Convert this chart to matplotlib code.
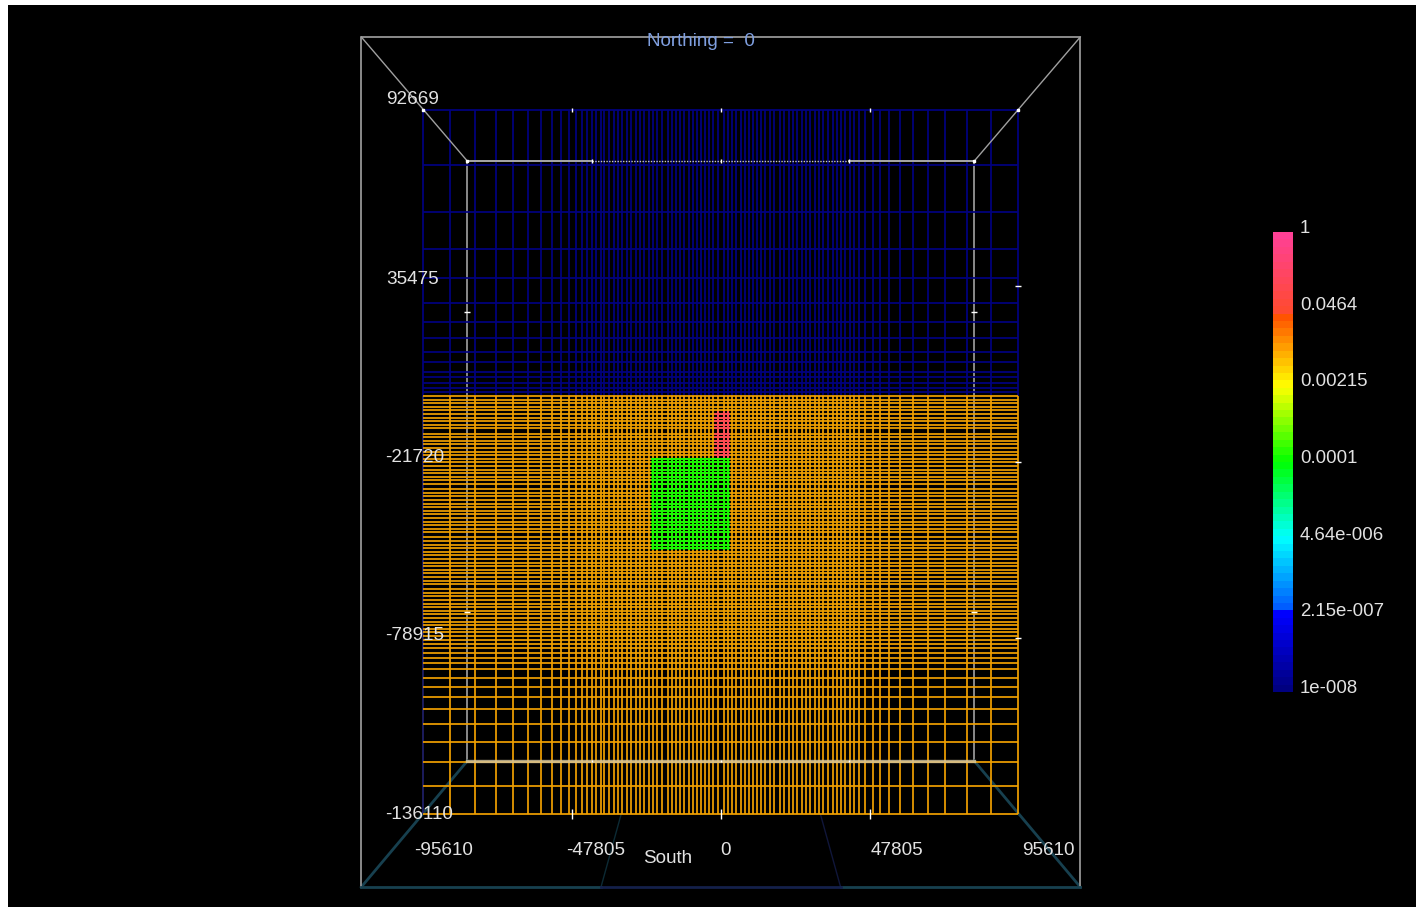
import matplotlib
matplotlib.use('Agg')
import matplotlib.pyplot as plt
from matplotlib.colors import LinearSegmentedColormap, LogNorm
from matplotlib.cm import ScalarMappable
import numpy as np

plt.rcParams['font.family'] = ['Liberation Sans', 'DejaVu Sans']

# mesh lines, metres
eastings = [-95610, -86940, -79060, -72150, -66690, -61870, -57690, -54160, -51260,
            -48850, -46440, -44510, -42900,
            -41400, -40000, -38600, -37400, -36000,
            -34400, -33000, -31600, -30200, -28800, -27400, -26000, -24600, -23200,
            -21800, -20400, -19000,
            -17000, -15670, -14340, -13010, -11680, -10350, -9020, -7690, -6360, -5030,
            -3700, -2370, -1040,
            1040, 2370, 3700, 5030, 6360, 7690, 9020, 10350, 11680, 13010, 14340, 15670,
            17000,
            19000, 20400, 21800, 23200, 24600, 26000, 27400, 28800, 30200, 31600, 33000,
            34400,
            36000, 37400, 38600, 40000, 41400,
            42900, 44510, 46440, 48850, 51260, 54160, 57690, 61870, 66690, 72150, 79060,
            86940, 95610]
air_levels = [92669, 74794, 59519, 47494, 38069, 29944, 23769, 18569, 14019, 10769,
              7519, 5894, 3944, 2319, 1019]
ground_levels = [-300, -1470, -2640, -3810, -4980, -6150, -7320, -8490, -9660, -10830,
                 -12500, -13670, -14840, -16010, -17180, -18350, -19520, -20690, -21860,
                 -23030, -24200, -25370, -26540, -27710, -28880,
                 -30550, -31720, -32890, -34060, -35230, -36400, -37570, -38740, -39910,
                 -41080, -42250, -43420, -44590,
                 -46260, -47430, -48600, -49770, -50940, -52110, -53280, -54450, -55620,
                 -56790, -57960, -59130, -60300, -61470,
                 -63100, -64270, -65440, -66610, -67780, -68950, -70120, -71290, -72460,
                 -73630, -74800, -75970, -77140, -78310,
                 -79581, -80881, -82181, -83806, -85431, -87056, -89006, -91931, -94856,
                 -98106, -102006, -106881, -112731, -119231, -127031, -136110]

# conductivities
air_value = 1e-8
green_value = 1e-4
red_value = 0.15
green_x = [-22340, 3050]
green_y = [-50331, -20431]
red_x = [-2090, 3050]
red_y = [-20431, -5156]

# bounding box drawn in perspective
outer_x = [-115540, 115540]
outer_y = [-159856, 116394]
inner_x = [-81475, 81475]
inner_y = [-118906, 76094]
floor_x = [-38500, 38500]
floor_back_x = [-32000, 32000]
floor_back_y = -136110
dotted_x = [-41300, 41300]

x_ticks = [-95610, -47805, 0, 47805, 95610]
y_ticks = [92669, 35475, -21720, -78915, -136110]
inner_ticks_x = [-41300, 0, 41300]
inner_ticks_y = [-70481, 27019]

cbar_ticks = [1e-8, 2.15e-7, 4.64e-6, 1e-4, 0.00215, 0.0464, 1]
cbar_labels = ['1e-008', '2.15e-007', '4.64e-006', '0.0001', '0.00215', '0.0464', '1']
cmap_stops = [(0.0, '#000080'), (0.165, '#0000ff'), (0.168, '#0050ff'), (0.333, '#00ffff'),
              (0.5, '#00ff00'), (0.667, '#ffff00'), (0.83, '#ff4800'), (0.835, '#ff4a30'),
              (1.0, '#ff4095')]

cmap = LinearSegmentedColormap.from_list('cond', cmap_stops, N=62)
norm = LogNorm(1e-8, 1)

W, H = 1416, 912
fig = plt.figure(figsize=(W / 100, H / 100), dpi=100, facecolor='white')
ax = fig.add_axes([8 / W, (H - 908) / H, (W - 8) / W, 902 / H], facecolor='black')
ax.set_xlim(-229090, 223438)
ax.set_ylim(-166356, 126794)
ax.set_xticks([])
ax.set_yticks([])
for s in ax.spines.values():
    s.set_visible(False)

lw = 1.25
top = air_levels[0]
ground = -281
bottom = ground_levels[-1]
left, right = eastings[0], eastings[-1]

gray = '#8a8a8a'
teal = '#17404f'
navy = '#14204a'

# box behind the mesh
ax.plot(inner_x[0:1] * 2, inner_y, color=gray, lw=1.4, zorder=1)
ax.plot(inner_x[1:] * 2, inner_y, color=gray, lw=1.4, zorder=1)
ax.plot([-floor_back_x[1], floor_x[0]], [floor_back_y, outer_y[0]], color='#0c2a34', lw=1, zorder=1)
ax.plot([floor_back_x[1], floor_x[1]], [floor_back_y, outer_y[0]], color='#10163a', lw=1, zorder=1)

# mesh, air then ground then the two blocks
ax.vlines(eastings, ground, top, color=cmap(norm(air_value)), lw=lw, zorder=2)
ax.hlines(air_levels, left, right, color=cmap(norm(air_value)), lw=lw, zorder=2)
ax.vlines(eastings[1:], bottom, ground, color='#f0a000', lw=lw, zorder=3)
ax.vlines(eastings[0], bottom, ground, color='#20206a', lw=lw, zorder=3)
ax.hlines(ground_levels, left, right, color='#f0a000', lw=lw, zorder=3)

e = np.array(eastings)
g = np.array(ground_levels)
for bx, by, val in [(green_x, green_y, green_value), (red_x, red_y, red_value)]:
    c = cmap(norm(val))
    ax.vlines(e[(e >= bx[0]) & (e <= bx[1])], by[0], by[1], color=c, lw=lw, zorder=4)
    ax.hlines(g[(g >= by[0]) & (g <= by[1])], bx[0], bx[1], color=c, lw=lw, zorder=4)

# box in front
ax.plot([outer_x[0], outer_x[0], outer_x[1], outer_x[1]],
        [outer_y[0], outer_y[1], outer_y[1], outer_y[0]], color=gray, lw=1.4, zorder=5)
ax.plot([outer_x[0], inner_x[0]], [outer_y[1], inner_y[1]], color='#a0a0a0', lw=1.0, zorder=5)
ax.plot([outer_x[1], inner_x[1]], [outer_y[1], inner_y[1]], color='#a0a0a0', lw=1.0, zorder=5)
ax.plot([inner_x[0], dotted_x[0]], [inner_y[1]] * 2, color='#a8a8a8', lw=1.4, zorder=5)
ax.plot([dotted_x[1], inner_x[1]], [inner_y[1]] * 2, color='#a8a8a8', lw=1.4, zorder=5)
ax.plot(dotted_x, [inner_y[1]] * 2, color='#c8c8c8', lw=1.0, ls=(0, (1, 1)), zorder=5)
ax.plot(inner_x, [inner_y[0]] * 2, color='#d8c8a0', lw=2.4, alpha=0.8, zorder=5)
ax.plot([outer_x[0], inner_x[0]], [outer_y[0], inner_y[0]], color=teal, lw=2.0, zorder=1)
ax.plot([outer_x[1], inner_x[1]], [outer_y[0], inner_y[0]], color=teal, lw=2.0, zorder=1)
ax.plot([outer_x[0], floor_x[0]], [outer_y[0]] * 2, color=teal, lw=2.0, zorder=5)
ax.plot([floor_x[1], outer_x[1]], [outer_y[0]] * 2, color=teal, lw=2.0, zorder=5)
ax.plot(floor_x, [outer_y[0]] * 2, color=navy, lw=2.0, zorder=5)

# tick marks
ax.plot(x_ticks[1:4], [top] * 3, ls='', marker='|', ms=3, mew=1, color='white', zorder=6)
ax.plot(x_ticks[1:4], [bottom] * 3, ls='', marker='|', ms=7, mew=1, color='white', zorder=6)
ax.plot(inner_ticks_x, [inner_y[1]] * 3, ls='', marker='|', ms=3, mew=1, color='white', zorder=6)
ax.plot(inner_ticks_x, [inner_y[0]] * 3, ls='', marker='|', ms=2, mew=1, color='white', zorder=6)
for x0 in inner_x:
    ax.plot([x0] * 2, inner_ticks_y, ls='', marker='_', ms=4, mew=1, color='white', zorder=6)
ax.plot([right] * 3, y_ticks[1:4], ls='', marker='_', ms=4, mew=1, color='white', zorder=6)
ax.plot([left, right, inner_x[0], inner_x[1]], [top, top, inner_y[1], inner_y[1]], ls='',
        marker='s', ms=2, color='white', zorder=6)

# labels sit off their ticks in the original
def px_text(x, y, s, ha='left', **kw):
    opts = dict(color='#e2e2e2', fontsize=13.6, va='center', ha=ha, zorder=7)
    opts.update(kw)
    fig.text(x / W, 1 - y / H, s, **opts)

for s, y, x in [('92669', 99, 386), ('35475', 279, 386), ('-21720', 458, 385),
                ('-78915', 636, 385), ('-136110', 815, 385)]:
    px_text(x, y, s)
for s, x in [('-95610', 414), ('-47805', 566), ('0', 720), ('47805', 871), ('95610', 1022)]:
    px_text(x, 851, s)
px_text(643, 859, 'South')
px_text(701, 42, 'Northing =  0', ha='center', color='#7f9fe0')

# colour bar
cax = fig.add_axes([1273 / W, (H - 693) / H, 20 / W, 460 / H])
cb = fig.colorbar(ScalarMappable(norm=norm, cmap=cmap), cax=cax)
cb.outline.set_visible(False)
cb.ax.minorticks_off()
cb.set_ticks(cbar_ticks, labels=cbar_labels)
cb.ax.tick_params(length=0, pad=5, labelsize=13.4, labelcolor='#e2e2e2')
for lab in cb.ax.get_yticklabels():
    lab.set_va('baseline')

fig.savefig('out.png', dpi=100, facecolor='white')
